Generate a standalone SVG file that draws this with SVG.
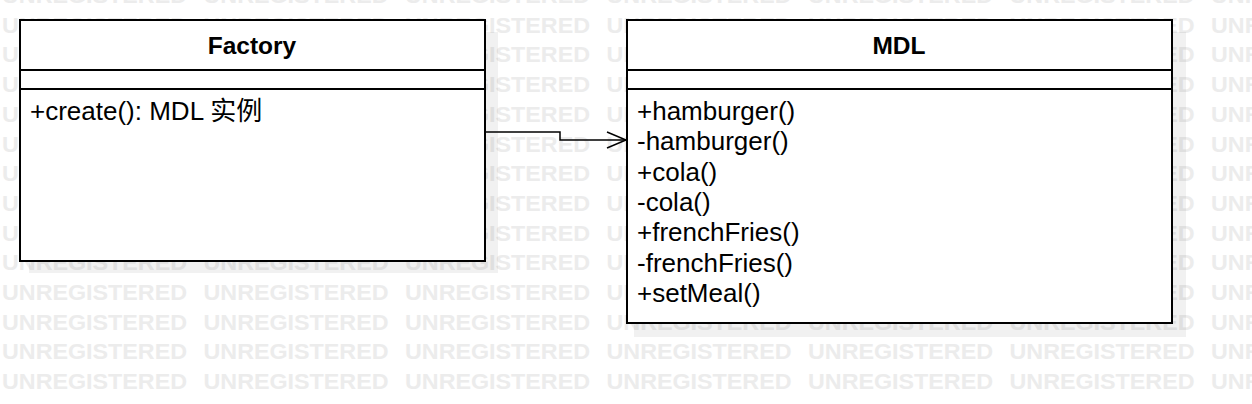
<svg xmlns="http://www.w3.org/2000/svg" xmlns:xlink="http://www.w3.org/1999/xlink" width="1252" height="404" viewBox="0 0 1252 404">
<style>
.wm{font-family:"Liberation Sans",Arial,sans-serif;font-weight:bold;font-size:22px;fill:#ececec}
.box{fill:#fff;stroke:#000;stroke-width:2}
.sep{stroke:#000;stroke-width:2}
.shadow{fill:#000;fill-opacity:0.055}
.title{font-family:"Liberation Sans",Arial,sans-serif;font-weight:bold;font-size:24.5px;fill:#000;text-anchor:middle}
.item{font-family:"Liberation Sans",Arial,"Noto Sans CJK SC",sans-serif;font-size:26px;fill:#000}
.conn{fill:none;stroke:#000;stroke-width:1.5}
</style>
<defs>
<g id="wmrow">
<text class="wm" x="2" y="0" textLength="185" lengthAdjust="spacingAndGlyphs">UNREGISTERED</text>
<text class="wm" x="203.5" y="0" textLength="185" lengthAdjust="spacingAndGlyphs">UNREGISTERED</text>
<text class="wm" x="405" y="0" textLength="185" lengthAdjust="spacingAndGlyphs">UNREGISTERED</text>
<text class="wm" x="606.5" y="0" textLength="185" lengthAdjust="spacingAndGlyphs">UNREGISTERED</text>
<text class="wm" x="808" y="0" textLength="185" lengthAdjust="spacingAndGlyphs">UNREGISTERED</text>
<text class="wm" x="1009.5" y="0" textLength="185" lengthAdjust="spacingAndGlyphs">UNREGISTERED</text>
<text class="wm" x="1211" y="0" textLength="185" lengthAdjust="spacingAndGlyphs">UNREGISTERED</text>
</g>
</defs>
<rect width="1252" height="404" fill="#fff"/>
<g id="watermark">
<use xlink:href="#wmrow" y="3"/>
<use xlink:href="#wmrow" y="32.7"/>
<use xlink:href="#wmrow" y="62.4"/>
<use xlink:href="#wmrow" y="92.1"/>
<use xlink:href="#wmrow" y="121.8"/>
<use xlink:href="#wmrow" y="151.5"/>
<use xlink:href="#wmrow" y="181.2"/>
<use xlink:href="#wmrow" y="210.9"/>
<use xlink:href="#wmrow" y="240.6"/>
<use xlink:href="#wmrow" y="270.3"/>
<use xlink:href="#wmrow" y="300"/>
<use xlink:href="#wmrow" y="329.7"/>
<use xlink:href="#wmrow" y="359.4"/>
<use xlink:href="#wmrow" y="389.1"/>
</g>
<g id="Factory">
<rect class="shadow" x="29" y="32" width="469" height="241"/>
<rect class="box" x="20" y="20" width="465" height="241"/>
<line class="sep" x1="20" y1="70" x2="485" y2="70"/>
<line class="sep" x1="20" y1="89" x2="485" y2="89"/>
<text class="title" x="252" y="54">Factory</text>
<text class="item" x="30" y="120">+create(): MDL 实例</text>
</g>
<g id="MDL">
<rect class="shadow" x="634" y="32" width="552" height="305"/>
<rect class="box" x="627" y="20" width="545" height="303"/>
<line class="sep" x1="627" y1="70" x2="1172" y2="70"/>
<line class="sep" x1="627" y1="89" x2="1172" y2="89"/>
<text class="title" x="899" y="54">MDL</text>
<text class="item" x="637" y="120">+hamburger()</text>
<text class="item" x="637" y="150.3">-hamburger()</text>
<text class="item" x="637" y="180.6">+cola()</text>
<text class="item" x="637" y="210.9">-cola()</text>
<text class="item" x="637" y="241.2">+frenchFries()</text>
<text class="item" x="637" y="271.5">-frenchFries()</text>
<text class="item" x="637" y="301.8">+setMeal()</text>
</g>
<g id="connectors">
<path class="conn" d="M485,132 H560 V140 H626"/>
<path class="conn" d="M607,132 L626,140 L607,148"/>
</g>
</svg>
